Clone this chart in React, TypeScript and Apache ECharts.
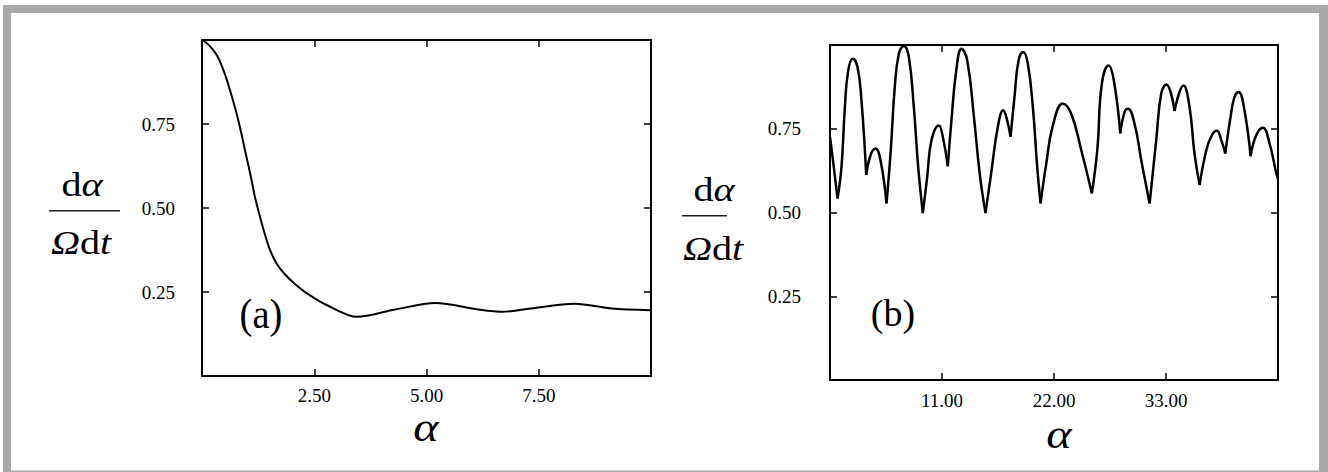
import React, { useEffect, useRef } from "react";
import * as echarts from "echarts";

// Panel (a)
const leftAlpha = [0, 0.14, 0.33, 0.44, 0.55, 0.66, 0.77, 0.88, 0.96, 1.03, 1.11, 1.18, 1.29, 1.4, 1.51, 1.66, 1.85, 2.07, 2.37, 2.81, 3.45, 4.3, 5.2, 6.15, 6.7, 7.27, 8.31, 9.12, 10];
const leftRate = [1.0, 0.987, 0.955, 0.923, 0.883, 0.834, 0.782, 0.72, 0.67, 0.629, 0.579, 0.532, 0.475, 0.422, 0.377, 0.335, 0.302, 0.274, 0.243, 0.209, 0.176, 0.198, 0.217, 0.198, 0.191, 0.2, 0.215, 0.201, 0.196];

// Panel (b)
const rightAlpha = [0, 0.21, 0.74, 1.13, 1.46, 1.79, 2.24, 2.7, 3.09, 3.56, 3.98, 4.47, 4.96, 5.55, 5.97, 6.34, 6.76, 7.25, 7.74, 8.23, 8.66, 9.12, 9.55, 9.97, 10.69, 11.08, 11.57, 11.93, 12.4, 12.92, 13.48, 14.13, 14.69, 15.27, 15.83, 16.48, 17.01, 17.4, 17.73, 18.12, 18.52, 18.98, 19.43, 19.92, 20.35, 20.68, 21.24, 21.89, 22.87, 23.69, 24.68, 25.72, 26.25, 26.7, 27.36, 27.88, 28.51, 28.93, 29.26, 29.91, 30.57, 31.39, 32.04, 32.53, 33.02, 33.84, 34.72, 35.31, 35.8, 36.3, 36.96, 37.51, 38.0, 38.43, 38.82, 39.34, 39.73, 40.13, 40.65, 41.31, 41.87, 42.52, 43.17, 43.83, 44];
const rightRate = [0.726, 0.676, 0.542, 0.636, 0.815, 0.924, 0.959, 0.934, 0.835, 0.612, 0.671, 0.691, 0.656, 0.527, 0.686, 0.865, 0.974, 0.997, 0.964, 0.815, 0.636, 0.498, 0.607, 0.716, 0.76, 0.726, 0.638, 0.775, 0.924, 0.989, 0.954, 0.787, 0.62, 0.498, 0.617, 0.755, 0.805, 0.775, 0.726, 0.845, 0.954, 0.979, 0.944, 0.815, 0.636, 0.527, 0.646, 0.76, 0.825, 0.795, 0.686, 0.557, 0.686, 0.885, 0.939, 0.894, 0.736, 0.8, 0.81, 0.765, 0.656, 0.527, 0.716, 0.855, 0.882, 0.803, 0.879, 0.815, 0.676, 0.582, 0.686, 0.731, 0.744, 0.716, 0.676, 0.785, 0.845, 0.86, 0.815, 0.668, 0.731, 0.753, 0.706, 0.617, 0.6];

const leftXRange = [0, 10, 2.5];
const rightXRange = [0, 44, 11];
const yRange = [0, 1, 0.25];

const SERIF = "'Liberation Serif', 'Times New Roman', serif";
const FRAME = "#a9a9ac";

function segmentsAtDips(xs: number[], ys: number[]) {
  const segs: number[][][] = [];
  let cur: number[][] = [[xs[0], ys[0]]];
  for (let i = 1; i < xs.length; i++) {
    cur.push([xs[i], ys[i]]);
    if (i < xs.length - 1 && ys[i] < ys[i - 1] && ys[i] < ys[i + 1]) {
      segs.push(cur);
      cur = [[xs[i], ys[i]]];
    }
  }
  segs.push(cur);
  return segs;
}

function axisPair(gridIndex: number, range: number[], dim: "x" | "y", labelMargin: number) {
  const common = {
    type: "value",
    gridIndex,
    min: range[0],
    max: range[1],
    interval: range[2],
    splitLine: { show: false },
    axisLine: { show: true, onZero: false, lineStyle: { color: "#000", width: 2 } },
    axisTick: { show: true, inside: true, length: 7, lineStyle: { color: "#000", width: 1.5 } },
  };
  const main = {
    ...common,
    position: dim === "x" ? "bottom" : "left",
    axisLabel: {
      show: true,
      showMinLabel: false,
      showMaxLabel: false,
      margin: labelMargin,
      color: "#000",
      fontFamily: SERIF,
      fontSize: 19,
      formatter: (v: number) => v.toFixed(2),
    },
  };
  const mirror = {
    ...common,
    position: dim === "x" ? "top" : "right",
    axisLabel: { show: false },
  };
  return [main, mirror];
}

export default function App() {
  const ref = useRef<HTMLDivElement>(null);
  useEffect(() => {
    document.body.style.margin = "0";
    const chart = echarts.init(ref.current!, null, { renderer: "svg" });
    const leftData = leftAlpha.map((a, i) => [a, leftRate[i]]);
    const rightSegs = segmentsAtDips(rightAlpha, rightRate);
    const lineSeries = (data: number[][], idx: number, width: number, smooth: any) => ({
      type: "line",
      xAxisIndex: idx,
      yAxisIndex: idx,
      data,
      smooth,
      showSymbol: false,
      symbol: "none",
      lineStyle: { color: "#000", width },
      silent: true,
    });
    const fracText = (x: number, y: number, rich: string) => ({
      type: "text",
      x,
      y,
      scaleX: 1.18,
      style: {
        text: rich,
        align: "center",
        verticalAlign: "middle",
        rich: {
          u: { fontFamily: SERIF, fontSize: 34, fill: "#000" },
          i: { fontFamily: SERIF, fontSize: 34, fontStyle: "italic", fill: "#000" },
        },
      },
    });
    const plain = (x: number, y: number, text: string, size: number, italic: boolean, sx: number) => ({
      type: "text",
      x,
      y,
      scaleX: sx,
      style: {
        text,
        align: "center",
        verticalAlign: "middle",
        fontFamily: SERIF,
        fontSize: size,
        fontStyle: italic ? "italic" : "normal",
        fill: "#000",
      },
    });
    chart.setOption({
      animation: false,
      backgroundColor: "#fff",
      grid: [
        { left: 202, top: 40, width: 449, height: 336 },
        { left: 830, top: 45, width: 448, height: 335 },
      ],
      xAxis: [...axisPair(0, leftXRange, "x", 10), ...axisPair(1, rightXRange, "x", 11)],
      yAxis: [...axisPair(0, yRange, "y", 27), ...axisPair(1, yRange, "y", 29)],
      series: [
        lineSeries(leftData, 0, 2, 0.3),
        ...rightSegs.map((s) => lineSeries(s, 2, 2.5, 0.45)),
      ],
      graphic: [
        { type: "rect", shape: { x: 3, y: 5, width: 8, height: 467 }, style: { fill: FRAME } },
        { type: "rect", shape: { x: 3, y: 5, width: 1325, height: 8 }, style: { fill: FRAME } },
        { type: "rect", shape: { x: 1319, y: 5, width: 9, height: 467 }, style: { fill: FRAME } },
        { type: "rect", shape: { x: 3, y: 470.5, width: 1325, height: 1.5 }, style: { fill: FRAME } },
        fracText(82, 185, "{u|d}{i|α}"),
        { type: "line", shape: { x1: 49, y1: 210.7, x2: 120, y2: 210.7 }, style: { stroke: "#222", lineWidth: 1.5 } },
        fracText(81, 242.5, "{i|Ω}{u|d}{i|t}"),
        fracText(714, 190, "{u|d}{i|α}"),
        { type: "line", shape: { x1: 682, y1: 215.7, x2: 727, y2: 215.7 }, style: { stroke: "#222", lineWidth: 1.5 } },
        fracText(713, 248.5, "{i|Ω}{u|d}{i|t}"),
        plain(426, 427, "α", 42, true, 1.15),
        plain(1059, 434, "α", 42, true, 1.15),
        plain(261, 314, "(a)", 42, false, 0.92),
        plain(893, 312.5, "(b)", 38, false, 1),
      ],
    });
    return () => chart.dispose();
  }, []);
  return <div ref={ref} style={{ width: 1328, height: 472 }} />;
}
